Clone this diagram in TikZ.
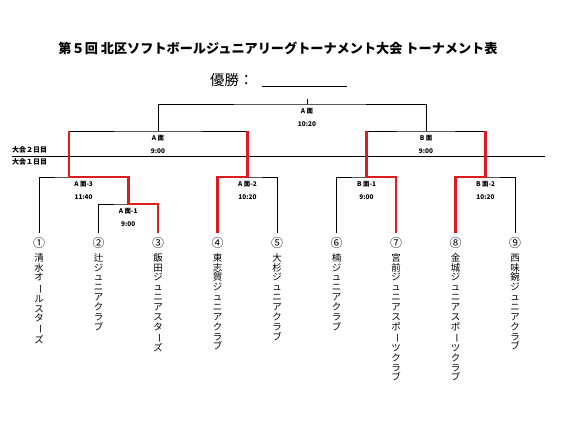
\documentclass[tikz,border=0pt]{standalone}
\usepackage{fontspec}
\setmainfont{Noto Sans CJK JP}
\usetikzlibrary{positioning}

\definecolor{winred}{RGB}{222,28,32}

% vertical team names, one character per line
\ExplSyntaxOn
\cs_new_eq:NN \mapchars \tl_map_inline:nn
\ExplSyntaxOff
\newcommand\tatechar[1]{\hbox to 1em{\vrule height .88em depth .12em width 0pt\hss#1\hss}\vskip .04em}
\newcommand\bou{\rotatebox[origin=c]{-90}{ー}}
\newcommand\tatename[1]{\vbox{\offinterlineskip\mapchars{#1}{\tatechar{##1}}}}

\begin{document}
\begin{tikzpicture}[
    x=1bp, y=-1bp,
    line/.style={black, line width=0.9bp},
    win/.style={winred, line width=2.5bp},
    match/.style={font=\bfseries\fontsize{6.5}{13}\selectfont, align=center,
                  inner sep=0pt},
    num/.style={font=\fontsize{12}{12}\selectfont, inner sep=0pt},
    team/.style={font=\fontsize{9.5}{9.5}\selectfont, inner sep=0pt},
    day/.style={font=\bfseries\fontsize{7}{7}\selectfont, anchor=west, inner sep=0pt}
]
\useasboundingbox (0,0) rectangle (568,425);

% heading
\node[font=\bfseries\fontsize{13.2}{13.2}\selectfont] (title) at (278,48)
    {第５回 北区ソフトボールジュニアリーグトーナメント大会 トーナメント表};
\node[font=\fontsize{14.5}{14.5}\selectfont, anchor=base west, inner sep=0pt] (champ) at (210,85)
    {優勝：\hspace{8bp}\underline{\hspace{85bp}}};

% teams
\foreach \i/\x/\c/\t in {1/39/①/清水オ\bou ルスタ\bou ズ,
                         2/98.5/②/辻ジュニアクラブ,
                         3/158/③/飯田ジュニアスタ\bou ズ,
                         4/217.5/④/東志賀ジュニアクラブ,
                         5/277/⑤/大杉ジュニアクラブ,
                         6/336.5/⑥/楠ジュニアクラブ,
                         7/396/⑦/宮前ジュニアスポ\bou ツクラブ,
                         8/455.5/⑧/金城ジュニアスポ\bou ツクラブ,
                         9/515/⑨/西味鋺ジュニアクラブ} {
    \node[num] (n\i) at (\x,243) {\c};
    \coordinate[above=4bp of n\i] (t\i);
    \node[team, anchor=north, below=4bp of n\i] (team\i) {\expandafter\tatename\expandafter{\t}};
}

% match points
\coordinate (top) at (307,99);
\coordinate (fin) at (307,104);
\coordinate (sA) at (158,131);
\coordinate (sB) at (426,131);
\coordinate (w3) at (69,177);
\coordinate (a3) at (83.6,177);
\coordinate (a2) at (247.5,177);
\coordinate (b1) at (366.5,177);
\coordinate (b2) at (485.5,177);
\coordinate (a1) at (128.25,204);

% day labels
\node[day] (day2) at (12,150) {大会２日目};
\node[day] (day1) at (12,161.5) {大会１日目};
\coordinate (sepL) at (12,156);
\coordinate (sepR) at (545,156);
\draw[line] (sepL) -- (sepR);

% bracket
\draw[line] (top) -- (fin);
\draw[line] (sA) |- (fin) -| (sB);
\draw[line] (w3) |- (sA) -| (a2);
\draw[line] (b1) |- (sB) -| (b2);
\draw[line] (t1) |- (w3) -| (a1);
\draw[line] (t2) |- (a1) -| (t3);
\draw[line] (t4) |- (a2) -| (t5);
\draw[line] (t6) |- (b1) -| (t7);
\draw[line] (t8) |- (b2) -| (t9);

% winners
\draw[win] (t3) |- (a1) |- (w3) -- (w3 |- sA);
\draw[win] (t4) |- (a2) -- (a2 |- sA);
\draw[win] (t7) |- (b1) -- (b1 |- sB);
\draw[win] (t8) |- (b2) -- (b2 |- sB);

% court and time
\node[match, below=4.3bp of fin] (lfin) {A 面\\10:20};
\node[match, below=4.3bp of sA] (lsA) {A 面\\9:00};
\node[match, below=4.3bp of sB] (lsB) {B 面\\9:00};
\node[match, below=4.3bp of a3] (la3) {A 面-3\\11:40};
\node[match, below=4.3bp of a1] (la1) {A 面-1\\9:00};
\node[match, below=4.3bp of a2] (la2) {A 面-2\\10:20};
\node[match, below=4.3bp of b1] (lb1) {B 面-1\\9:00};
\node[match, below=4.3bp of b2] (lb2) {B 面-2\\10:20};
\end{tikzpicture}
\end{document}
